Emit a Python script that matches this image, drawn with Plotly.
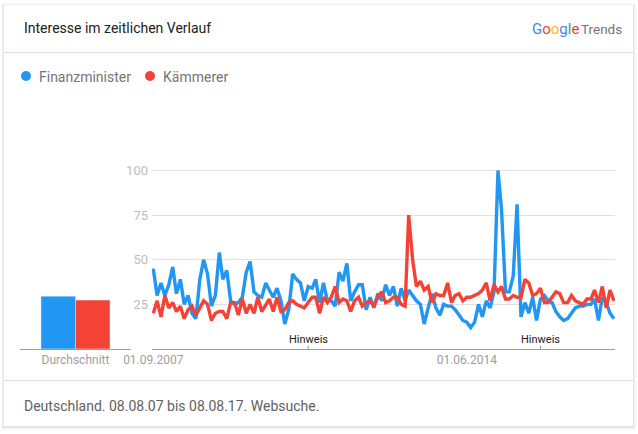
import pandas as pd
import plotly.graph_objects as go

W = 638
H = 434

months = pd.date_range("2007-09-01", periods=120, freq="MS")

finanzminister = [
    45, 30, 37, 30, 36, 46, 31, 39, 25, 30, 20, 17, 39, 50, 42, 24, 30, 54, 39, 44,
    27, 25, 26, 29, 43, 49, 32, 30, 29, 37, 33, 29, 34, 27, 14, 22, 42, 39,
    37, 27, 35, 34, 39, 26, 37, 27, 27, 24, 43, 38, 48, 27, 32, 36, 36, 22, 29, 23,
    31, 27, 36, 30, 35, 24, 34, 27, 33, 30, 27, 25, 14, 23, 31, 23, 19, 25, 24, 24,
    22, 19,
    16, 15, 12, 15, 25, 18, 27, 23, 32, 100, 78, 32, 32, 41, 81, 18, 26, 20, 29, 16,
    28, 30, 27, 26, 21, 18, 16, 17, 20, 23, 24, 24, 25, 25, 28, 16, 29, 26, 20, 17,
]
kaemmerer = [
    20, 27, 18, 30, 23, 26, 21, 24, 17, 22, 24, 19, 23, 27, 25, 16, 20, 21, 21, 17,
    26, 26, 19, 28, 20, 25, 20, 29, 21, 25, 28, 21, 29, 21, 22, 26, 27, 25,
    24, 23, 26, 29, 29, 20, 29, 26, 29, 35, 26, 28, 27, 21, 27, 29, 24, 26, 27, 24,
    29, 32, 26, 27, 29, 29, 25, 24, 75, 50, 35, 38, 33, 35, 26, 31, 30, 30, 37, 26,
    30, 31,
    27, 29, 29, 30, 31, 33, 37, 27, 36, 32, 35, 28, 28, 30, 29, 29, 39, 37, 30, 31,
    34, 26, 26, 29, 32, 31, 26, 26, 30, 27, 26, 25, 28, 28, 33, 26, 35, 23, 33, 27,
]

avg_label = ["Durchschnitt"]
avg_finanzminister = [29.6]
avg_kaemmerer = [27.4]

y_ticks = [25, 50, 75, 100]
date_ticks = ["2007-09-01", "2014-06-01"]
date_labels = ["01.09.2007", "01.06.2014"]
note_dates = ["2011-01-01", "2016-01-01"]

BLUE = "#2196f3"
RED = "#f44336"
FONT = "Roboto"


def px_x(px):
    return px / W


def px_y(px):
    return 1 - px / H


def paper_line(x0, y0, x1, y1, color="#e0e0e0"):
    return dict(type="line", xref="paper", yref="paper", x0=px_x(x0), y0=px_y(y0),
                x1=px_x(x1), y1=px_y(y1), line=dict(color=color, width=1), layer="below")


def paper_text(px, py, text, size, color, anchor="left"):
    return dict(xref="paper", yref="paper", x=px_x(px), y=px_y(py), text=text, showarrow=False,
                xanchor=anchor, yanchor="middle", font=dict(family=FONT, size=size, color=color),
                borderpad=0, borderwidth=0)


fig = go.Figure()

fig.add_trace(go.Bar(x=avg_label, y=avg_finanzminister, marker_color=BLUE, xaxis="x", yaxis="y",
                     name="Finanzminister"))
fig.add_trace(go.Bar(x=avg_label, y=avg_kaemmerer, marker_color=RED, xaxis="x", yaxis="y",
                     name="Kämmerer"))
fig.add_trace(go.Scatter(x=months, y=finanzminister, mode="lines", xaxis="x2", yaxis="y2",
                         line=dict(color=BLUE, width=3.4), name="Finanzminister"))
fig.add_trace(go.Scatter(x=months, y=kaemmerer, mode="lines", xaxis="x2", yaxis="y2",
                         line=dict(color=RED, width=3.4), name="Kämmerer"))

shapes = []
# card with a soft shadow
for grow, alpha in [(3, 0.02), (2, 0.03), (1, 0.05)]:
    shapes.append(dict(type="rect", xref="paper", yref="paper", x0=px_x(4 - grow), x1=px_x(633 + grow),
                       y0=px_y(426 + grow + 1), y1=px_y(5 - grow + 1), line_width=0,
                       fillcolor=f"rgba(0,0,0,{alpha})", layer="below"))
shapes.append(dict(type="rect", xref="paper", yref="paper", x0=px_x(4), x1=px_x(633), y0=px_y(426),
                   y1=px_y(5), line_width=0, fillcolor="white", layer="below"))
shapes.append(paper_line(4, 52.5, 633, 52.5))
shapes.append(paper_line(4, 380.5, 633, 380.5))
# legend dots
for cx, color in [(26, BLUE), (150, RED)]:
    shapes.append(dict(type="circle", xref="paper", yref="paper", x0=px_x(cx - 5), x1=px_x(cx + 5),
                       y0=px_y(81), y1=px_y(71), line_width=0, fillcolor=color))
# note ticks
for d in note_dates:
    shapes.append(dict(type="line", xref="x2", yref="y2", x0=d, x1=d, y0=0, y1=2,
                       line=dict(color="#9e9e9e", width=1)))

annotations = [
    paper_text(24, 28, "Interesse im zeitlichen Verlauf", 14, "#212121"),
    paper_text(39, 77, "Finanzminister", 14, "#757575"),
    paper_text(163, 77, "Kämmerer", 14, "#757575"),
    paper_text(24, 406, "Deutschland. 08.08.07 bis 08.08.17. Websuche.", 14, "#616161"),
    paper_text(532, 29, '<span style="color:#4285f4">G</span><span style="color:#ea4335">o</span>'
                        '<span style="color:#fbbc05">o</span><span style="color:#4285f4">g</span>'
                        '<span style="color:#34a853">l</span><span style="color:#ea4335">e</span>', 15, "#757575"),
    paper_text(581, 29, "Trends", 13.5, "#757575"),
]
for d in note_dates:
    annotations.append(dict(xref="x2", yref="paper", x=d, y=px_y(339), text="Hinweis", showarrow=False,
                            yanchor="middle", font=dict(family=FONT, size=11, color="#212121")))

axis_font = dict(family=FONT, size=12, color="#9e9e9e")

fig.update_layout(
    width=W,
    height=H,
    margin=dict(l=0, r=0, t=0, b=0),
    paper_bgcolor="white",
    plot_bgcolor="rgba(0,0,0,0)",
    showlegend=False,
    barmode="group",
    bargap=0.378,
    bargroupgap=0,
    shapes=shapes,
    annotations=annotations,
    font=dict(family=FONT),
    xaxis=dict(domain=[px_x(20), px_x(131)], anchor="y", showline=True, linecolor="#9e9e9e", linewidth=1,
               ticks="", tickfont=axis_font, showgrid=False, automargin=False),
    yaxis=dict(domain=[px_y(349), px_y(152.6)], range=[0, 110], anchor="x", visible=False, automargin=False),
    xaxis2=dict(domain=[px_x(152), px_x(615)], anchor="y2", range=["2007-08-22", "2017-08-09"], type="date",
                showline=True, linecolor="#9e9e9e", linewidth=1, showgrid=False, ticks="", automargin=False,
                tickmode="array", tickvals=date_ticks, ticktext=date_labels, tickfont=axis_font),
    yaxis2=dict(domain=[px_y(349), px_y(152.6)], range=[0, 110], anchor="x2", tickmode="array",
                tickvals=y_ticks, showgrid=True, gridcolor="#e0e0e0", gridwidth=1, zeroline=False,
                tickfont=dict(family=FONT, size=13, color="#bdbdbd"), ticks="", ticklabelstandoff=3,
                automargin=False),
)

fig.write_html("out.html", config=dict(displayModeBar=False),
               post_script="document.body.style.margin='0';document.body.style.overflow='hidden';")
